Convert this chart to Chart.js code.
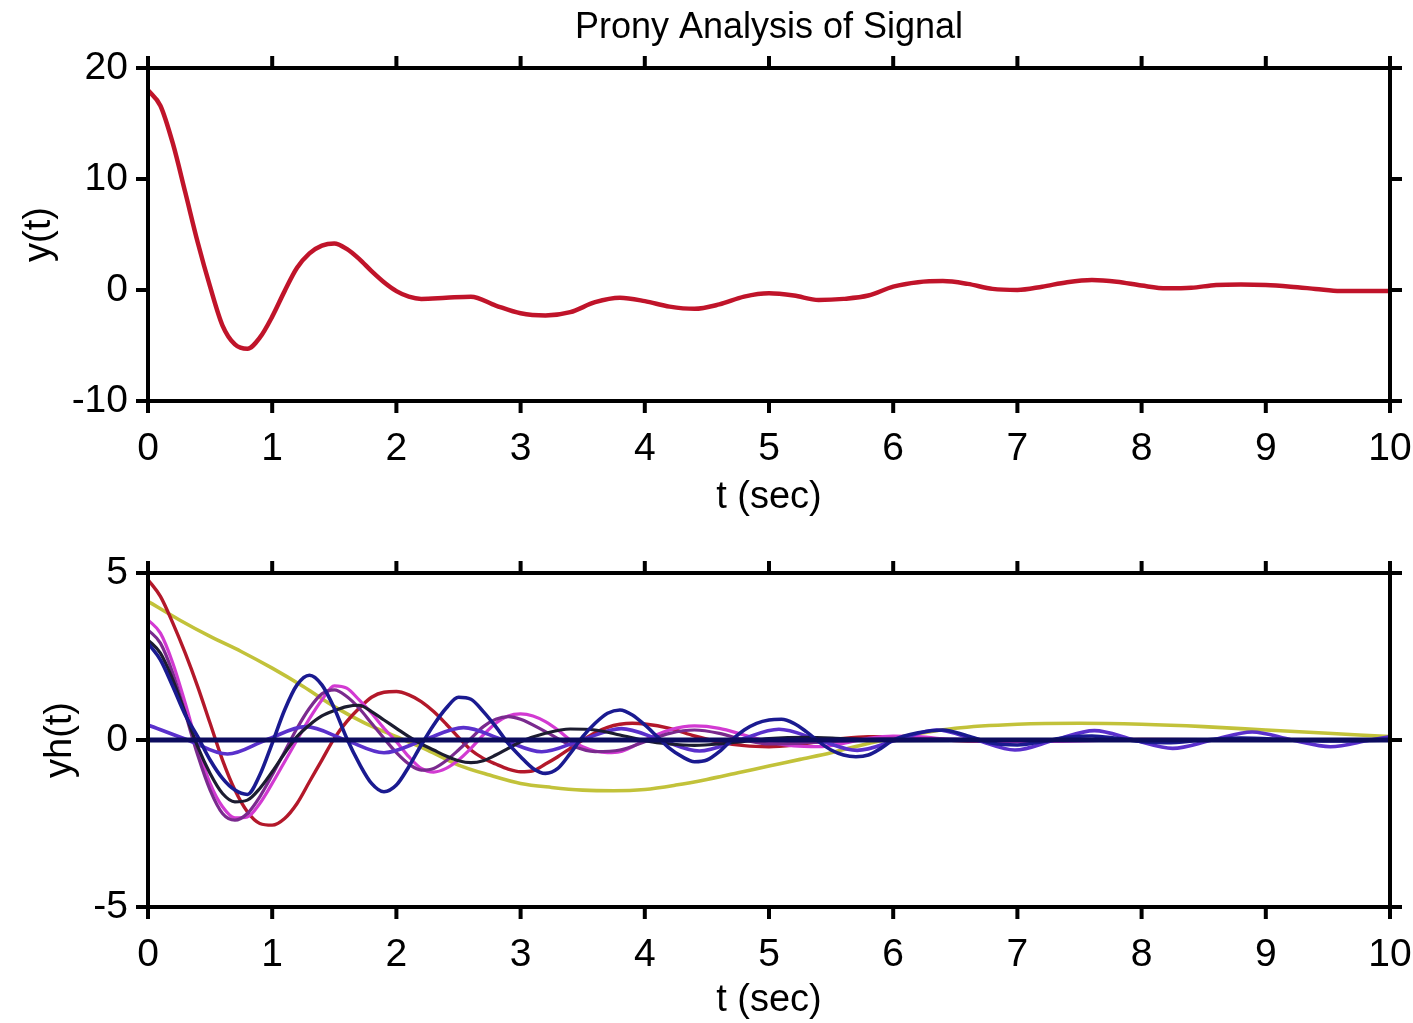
<!DOCTYPE html>
<html>
<head>
<meta charset="utf-8">
<script src="https://cdn.jsdelivr.net/npm/chart.js@4.4.1/dist/chart.umd.min.js"></script>
<style>
  html, body { margin: 0; padding: 0; background: #ffffff; }
  body { width: 1413px; height: 1023px; position: relative; overflow: hidden; }
  canvas { position: absolute; left: 0; }
  #c1 { top: 0; }
  #c2 { top: 500px; }
</style>
</head>
<body>
<canvas id="c1" width="1413" height="520"></canvas>
<canvas id="c2" width="1413" height="523"></canvas>
<script>
// ---------- data ----------
const titleText = 'Prony Analysis of Signal';
const xLabel = 't (sec)';
const yLabelTop = 'y(t)';
const yLabelBottom = 'yh(t)';

// top panel: measured signal y(t)
const tTop = [0,0.1,0.2,0.3,0.4,0.5,0.6,0.7,0.8,0.9,1.0,1.1,1.2,1.3,1.4,1.5,1.6,1.7,1.8,1.9,2.0,2.1,2.2,
  2.4,2.6,2.8,3.0,3.2,3.4,3.6,3.8,4.0,4.2,4.4,4.6,4.8,5.0,5.2,5.4,5.6,5.8,6.0,6.2,6.4,6.6,6.8,7.0,
  7.2,7.4,7.6,7.8,8.0,8.2,8.4,8.6,8.8,9.0,9.2,9.4,9.6,9.8,10];
const yTop = [18.0,16.6,13.2,8.8,4.3,0.3,-3.2,-4.9,-5.3,-4.3,-2.4,-0.1,2.0,3.3,4.0,4.2,3.7,2.8,1.7,0.7,-0.1,-0.6,-0.8,
  -0.7,-0.6,-1.4,-2.1,-2.3,-2.0,-1.1,-0.7,-1.0,-1.5,-1.7,-1.3,-0.6,-0.3,-0.5,-0.9,-0.8,-0.5,0.3,0.7,0.8,0.55,0.1,0.0,
  0.3,0.7,0.9,0.75,0.4,0.15,0.2,0.45,0.5,0.45,0.3,0.1,-0.1,-0.1,-0.1];

// bottom panel: Prony modes yh(t)
const tYellow = [0,0.25,0.5,0.75,1,1.25,1.5,1.75,2,2.25,2.5,2.75,3,3.25,3.5,3.75,4,4.25,4.5,4.75,5,5.25,5.5,5.75,6,6.5,7,7.5,8,8.5,9,9.5,10];
const yYellow = [4.15,3.6,3.1,2.65,2.15,1.6,1.0,0.5,0.1,-0.3,-0.75,-1.05,-1.3,-1.42,-1.5,-1.52,-1.48,-1.35,-1.18,-0.98,
  -0.78,-0.58,-0.38,-0.15,0.05,0.35,0.47,0.5,0.47,0.4,0.3,0.2,0.1];

const tRed = [0,0.1,0.2,0.3,0.4,0.5,0.6,0.7,0.8,0.9,1.0,1.1,1.2,1.3,1.4,1.5,1.6,1.7,1.8,1.9,2.0,2.1,2.2,2.3,2.4,2.5,
  2.6,2.7,2.8,2.9,3.0,3.1,3.2,3.3,3.4,3.5,3.6,3.7,3.8,3.9,4.0,4.2,4.4,4.6,4.8,5.0,5.2,5.4,5.6,5.8,6.0,6.2,6.5,7,7.5,8,9,10];
const yRed = [4.8,4.3,3.5,2.6,1.6,0.5,-0.6,-1.5,-2.15,-2.5,-2.55,-2.35,-1.9,-1.25,-0.6,0.05,0.55,0.95,1.28,1.43,1.45,
  1.35,1.15,0.85,0.48,0.08,-0.3,-0.55,-0.72,-0.87,-0.95,-0.92,-0.72,-0.5,-0.25,0.0,0.22,0.38,0.47,0.5,0.48,
  0.35,0.12,-0.06,-0.17,-0.2,-0.15,-0.05,0.05,0.1,0.1,0.06,-0.02,-0.05,0,0.02,0,0];

const tMagenta = [0,0.1,0.2,0.3,0.4,0.5,0.6,0.7,0.8,0.9,1.0,1.1,1.2,1.3,1.4,1.5,1.6,1.7,1.8,1.9,2.0,2.1,2.2,2.3,2.4,2.5,
  2.6,2.7,2.8,2.9,3.0,3.1,3.2,3.3,3.4,3.5,3.6,3.7,3.8,3.9,4.0,4.2,4.4,4.6,4.8,5.0,5.2,5.4,5.6,5.8,6.0,6.2,6.5,7,8,10];
const yMagenta = [3.6,3.2,2.3,1.1,-0.2,-1.3,-2.0,-2.33,-2.3,-1.9,-1.3,-0.65,0.0,0.64,1.2,1.62,1.55,1.2,0.8,0.35,-0.05,
  -0.5,-0.85,-0.96,-0.85,-0.6,-0.25,0.15,0.5,0.72,0.78,0.72,0.55,0.3,0.0,-0.2,-0.33,-0.38,-0.35,-0.2,0.0,
  0.3,0.42,0.35,0.15,-0.05,-0.18,-0.2,-0.1,0.05,0.12,0.1,0.0,-0.05,0.0,0.0];

const tPurple = [0,0.1,0.2,0.3,0.4,0.5,0.6,0.7,0.8,0.9,1.0,1.1,1.2,1.3,1.4,1.5,1.6,1.7,1.8,1.9,2.0,2.1,2.2,2.3,2.4,2.5,
  2.6,2.7,2.8,2.9,3.0,3.2,3.4,3.6,3.8,4.0,4.2,4.4,4.6,4.8,5.0,5.5,6,7,8,10];
const yPurple = [3.3,2.9,2.0,0.8,-0.45,-1.5,-2.2,-2.4,-2.2,-1.7,-1.05,-0.35,0.35,0.95,1.38,1.5,1.3,0.95,0.5,0.05,-0.38,
  -0.72,-0.9,-0.85,-0.62,-0.3,0.05,0.4,0.62,0.7,0.62,0.25,-0.15,-0.35,-0.3,-0.05,0.2,0.3,0.2,0.0,-0.12,-0.05,0.05,0,0,0];

const tBlack = [0,0.1,0.2,0.3,0.4,0.5,0.6,0.7,0.8,0.9,1.0,1.1,1.2,1.3,1.4,1.5,1.6,1.7,1.8,1.9,2.0,2.1,2.2,2.3,2.4,2.5,
  2.6,2.7,2.8,2.9,3.0,3.2,3.4,3.6,3.8,4.0,4.2,4.4,4.6,4.8,5.0,5.3,5.6,6,7,10];
const yBlack = [3.0,2.6,1.8,0.8,-0.2,-1.0,-1.6,-1.85,-1.8,-1.45,-0.95,-0.4,0.1,0.45,0.72,0.88,1.0,1.04,0.85,0.6,0.35,
  0.1,-0.12,-0.3,-0.48,-0.62,-0.68,-0.62,-0.45,-0.25,-0.05,0.2,0.33,0.3,0.15,-0.02,-0.12,-0.16,-0.12,-0.04,0.04,
  0.08,0.04,-0.02,0,0];

const tBlue = [0,0.1,0.2,0.3,0.4,0.5,0.6,0.7,0.8,0.9,1.0,1.1,1.2,1.3,1.4,1.5,1.6,1.7,1.8,1.9,2.0,2.1,2.2,2.3,2.4,2.5,
  2.6,2.7,2.8,2.9,3.0,3.1,3.2,3.3,3.4,3.5,3.6,3.7,3.8,3.9,4.0,4.1,4.2,4.3,4.4,4.5,4.6,4.7,4.8,4.9,5.0,5.1,5.2,5.3,
  5.4,5.5,5.6,5.7,5.8,5.9,6.0,6.2,6.4,6.6,6.8,7.0,7.2,7.4,7.6,7.8,8.0,8.2,8.5,8.8,9.2,9.5,10];
const yBlue = [2.9,2.4,1.6,0.75,0.1,-0.6,-1.15,-1.5,-1.63,-1.05,-0.1,0.9,1.65,1.94,1.65,0.95,0.05,-0.7,-1.3,-1.55,-1.35,
  -0.8,-0.15,0.45,0.95,1.28,1.22,0.85,0.4,-0.1,-0.5,-0.85,-1.0,-0.85,-0.4,0.1,0.5,0.8,0.9,0.75,0.45,0.1,-0.25,
  -0.5,-0.65,-0.6,-0.35,0.0,0.3,0.5,0.6,0.62,0.5,0.25,-0.05,-0.3,-0.45,-0.5,-0.45,-0.25,0.0,
  0.22,0.3,0.12,-0.1,-0.15,-0.05,0.08,0.12,0.05,-0.05,-0.08,0.0,0.06,0.0,-0.03,0];

const tViolet = [0,0.32,0.64,0.95,1.27,1.59,1.9,2.22,2.54,2.86,3.17,3.49,3.81,4.13,4.44,4.76,5.08,5.4,5.71,6.03,
  6.35,6.67,6.98,7.3,7.62,7.94,8.25,8.57,8.89,9.21,9.52,9.84,10];
const yViolet = [0.45,0,-0.42,0,0.4,0,-0.38,0,0.37,0,-0.35,0,0.34,0,-0.33,0,0.32,0,-0.31,0,
  0.3,0,-0.3,0,0.28,0,-0.25,0,0.24,0,-0.2,0,0.1];

const tZero = [0, 10];
const yZero = [0, 0];

const xTicks = [0,1,2,3,4,5,6,7,8,9,10];
const yTicksTop = [-10, 0, 10, 20];
const yTicksBottom = [-5, 0, 5];

// ---------- helpers ----------
const pts = (ts, ys) => ts.map((t, i) => ({ x: t, y: ys[i] }));
const FONT = "'Liberation Sans', Arial, Helvetica, sans-serif";

const boxPlugin = {
  id: 'matlabBox',
  afterDraw(chart) {
    const { ctx, chartArea: a, scales } = chart;
    ctx.save();
    ctx.strokeStyle = '#000';
    ctx.lineWidth = 4;
    ctx.strokeRect(a.left, a.top, a.right - a.left, a.bottom - a.top);
    const L = 12;
    ctx.beginPath();
    scales.x.ticks.forEach(tk => {
      const px = scales.x.getPixelForValue(tk.value);
      ctx.moveTo(px, a.top); ctx.lineTo(px, a.top - L);
      ctx.moveTo(px, a.bottom); ctx.lineTo(px, a.bottom + L);
    });
    scales.y.ticks.forEach(tk => {
      const py = scales.y.getPixelForValue(tk.value);
      ctx.moveTo(a.left, py); ctx.lineTo(a.left - L, py);
      ctx.moveTo(a.right, py); ctx.lineTo(a.right + L, py);
    });
    ctx.stroke();
    ctx.restore();
  }
};

function makeScales(yMin, yMax, yStep, yTickList, yTitle, yTitlePad, xHeight, xTitlePadBottom) {
  return {
    x: {
      type: 'linear', min: 0, max: 10,
      afterBuildTicks: s => { s.ticks = xTicks.map(v => ({ value: v })); },
      ticks: { stepSize: 1, color: '#000', font: { family: FONT, size: 39 }, padding: 25, maxRotation: 0, autoSkip: false },
      grid: { display: false, drawTicks: false },
      border: { display: false },
      title: { display: true, text: xLabel, color: '#000', font: { family: FONT, size: 38 },
               padding: { top: 0, bottom: xTitlePadBottom } },
      afterFit: s => { s.height = xHeight; s.paddingLeft = 0; s.paddingRight = 0; }
    },
    y: {
      type: 'linear', min: yMin, max: yMax,
      afterBuildTicks: s => { s.ticks = yTickList.map(v => ({ value: v })); },
      ticks: { stepSize: yStep, color: '#000', font: { family: FONT, size: 39 }, padding: 20, autoSkip: false },
      grid: { display: false, drawTicks: false },
      border: { display: false },
      title: { display: true, text: yTitle, color: '#000', font: { family: FONT, size: 38 },
               padding: { top: yTitlePad, bottom: 0 } },
      afterFit: s => { s.width = 148; s.paddingTop = 0; s.paddingBottom = 0; }
    }
  };
}

const lineDefaults = { pointRadius: 0, fill: false, cubicInterpolationMode: 'monotone', borderJoinStyle: 'round', borderCapStyle: 'round' };

// ---------- top chart ----------
new Chart(document.getElementById('c1'), {
  type: 'line',
  data: {
    datasets: [
      Object.assign({ label: 'y(t)', data: pts(tTop, yTop), borderColor: '#c0142a', borderWidth: 4.5 }, lineDefaults)
    ]
  },
  options: {
    responsive: false, animation: false, devicePixelRatio: 1,
    layout: { padding: { top: 0, left: 0, right: 23, bottom: 0 } },
    plugins: {
      legend: { display: false }, tooltip: { enabled: false },
      title: { display: true, text: titleText, color: '#000', fullSize: false,
               font: { family: FONT, size: 36, weight: 'normal' }, padding: { top: 6, bottom: 18.8 } }
    },
    scales: makeScales(-10, 20, 10, yTicksTop, yLabelTop, 17, 119, 0)
  },
  plugins: [boxPlugin]
});

// ---------- bottom chart ----------
new Chart(document.getElementById('c2'), {
  type: 'line',
  data: {
    datasets: [
      Object.assign({ label: 'zero', data: pts(tZero, yZero), borderColor: '#0c0c5e', borderWidth: 5 }, { pointRadius: 0, fill: false }),
      Object.assign({ label: 'blue', data: pts(tBlue, yBlue), borderColor: '#1a1a90', borderWidth: 3.6 }, lineDefaults),
      Object.assign({ label: 'black', data: pts(tBlack, yBlack), borderColor: '#1c1c30', borderWidth: 3.2 }, lineDefaults),
      Object.assign({ label: 'violet', data: pts(tViolet, yViolet), borderColor: '#5a30cc', borderWidth: 3.6 }, lineDefaults),
      Object.assign({ label: 'purple', data: pts(tPurple, yPurple), borderColor: '#7a2a8e', borderWidth: 3.2 }, lineDefaults),
      Object.assign({ label: 'magenta', data: pts(tMagenta, yMagenta), borderColor: '#d23ad2', borderWidth: 3.2 }, lineDefaults),
      Object.assign({ label: 'red', data: pts(tRed, yRed), borderColor: '#b3182a', borderWidth: 3.4 }, lineDefaults),
      Object.assign({ label: 'yellow', data: pts(tYellow, yYellow), borderColor: '#c2c23a', borderWidth: 3.6 }, lineDefaults)
    ]
  },
  options: {
    responsive: false, animation: false, devicePixelRatio: 1,
    layout: { padding: { top: 73, left: 0, right: 23, bottom: 0 } },
    plugins: { legend: { display: false }, tooltip: { enabled: false }, title: { display: false } },
    scales: makeScales(-5, 5, 5, yTicksBottom, yLabelBottom, 38, 116, 0)
  },
  plugins: [boxPlugin]
});
</script>
</body>
</html>
